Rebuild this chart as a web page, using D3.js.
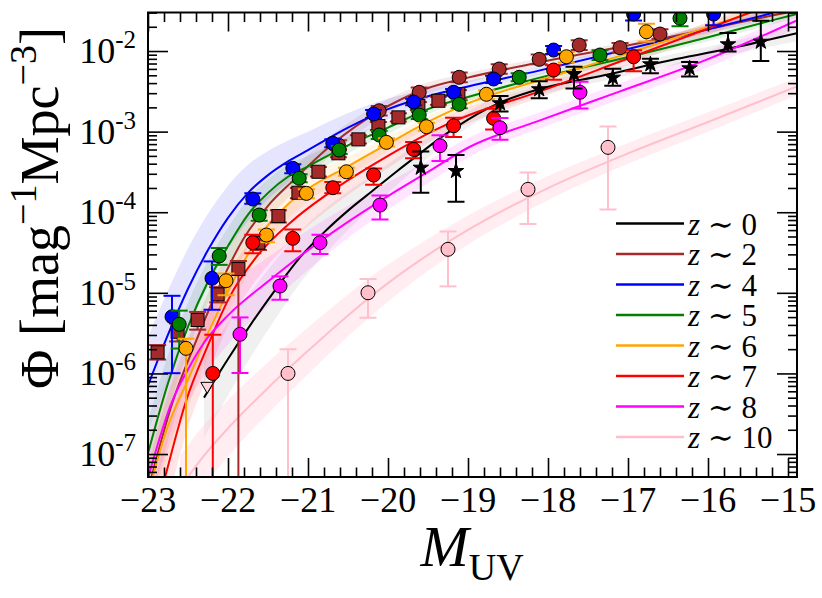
<!DOCTYPE html>
<html><head><meta charset="utf-8">
<script src="https://cdn.jsdelivr.net/npm/d3@7"></script>
<style>body{margin:0;background:#fff}svg{display:block}</style>
</head><body><svg id="c" width="822" height="598"></svg>
<script>
// ---------------- DATA (log10 Phi values) ----------------
const zLabels = ["0", "2", "4", "5", "6", "7", "8", "10"];

// fitted curves (M_UV, log10 Phi, band half-width in dex)
const c0M = [-22.3, -22.0, -21.7, -21.4, -21.1, -20.8, -20.5, -20.2, -19.9, -19.6, -19.35, -19.0, -18.6, -18.1, -17.3, -16.4, -15.6, -14.89];
const c0L = [-6.3, -5.82, -5.37, -4.95, -4.56, -4.25, -3.98, -3.74, -3.5, -3.27, -3.08, -2.85, -2.64, -2.47, -2.3, -2.1, -1.94, -1.78];
const c0B = [0.5, 0.45, 0.4, 0.36, 0.32, 0.28, 0.24, 0.2, 0.17, 0.14, 0.12, 0.1, 0.09, 0.08, 0.07, 0.07, 0.08, 0.1];

const c2M = [-23.0, -22.7, -22.4, -22.1, -21.8, -21.5, -21.2, -20.7, -20.1, -19.56, -19.0, -18.1, -17.1, -16.0, -15.2, -14.89];
const c2L = [-7.45, -6.38, -5.6, -4.9, -4.32, -3.92, -3.62, -3.16, -2.74, -2.48, -2.33, -2.14, -1.95, -1.73, -1.56, -1.5];
const c2B = [0.3, 0.28, 0.25, 0.22, 0.2, 0.17, 0.15, 0.12, 0.09, 0.07, 0.06, 0.05, 0.05, 0.05, 0.05, 0.05];

const c4M = [-23.0, -22.75, -22.5, -22.25, -22.0, -21.75, -21.5, -21.25, -21.0, -20.5, -20.0, -19.5, -19.0, -18.1, -17.1, -16.0, -15.2];
const c4L = [-6.15, -5.52, -4.95, -4.47, -4.07, -3.76, -3.54, -3.37, -3.23, -2.95, -2.72, -2.56, -2.44, -2.24, -2.0, -1.73, -1.53];
const c4B = [0.6, 0.55, 0.5, 0.45, 0.4, 0.35, 0.3, 0.26, 0.23, 0.18, 0.13, 0.09, 0.07, 0.05, 0.05, 0.05, 0.05];

const c5M = [-23.0, -22.75, -22.5, -22.25, -22.0, -21.75, -21.5, -21.25, -21.0, -20.5, -20.0, -19.5, -19.0, -18.1, -17.1, -16.0, -15.2, -14.89];
const c5L = [-6.99, -6.12, -5.42, -4.86, -4.42, -4.03, -3.76, -3.56, -3.43, -3.17, -2.95, -2.72, -2.57, -2.33, -2.1, -1.83, -1.62, -1.54];
const c5B = [0.4, 0.35, 0.3, 0.26, 0.23, 0.2, 0.17, 0.15, 0.13, 0.1, 0.08, 0.06, 0.05, 0.05, 0.05, 0.05, 0.05, 0.05];

const c6M = [-23.0, -22.75, -22.5, -22.25, -22.0, -21.75, -21.5, -21.25, -21.0, -20.5, -20.0, -19.5, -19.0, -18.1, -17.1, -16.0, -15.3];
const c6L = [-7.5, -6.65, -6.08, -5.5, -4.98, -4.52, -4.16, -3.9, -3.71, -3.43, -3.15, -2.88, -2.65, -2.36, -2.06, -1.7, -1.47];
const c6B = [0.45, 0.4, 0.35, 0.3, 0.27, 0.24, 0.21, 0.18, 0.16, 0.12, 0.09, 0.07, 0.06, 0.05, 0.05, 0.05, 0.05];

const c7M = [-23.0, -22.79, -22.52, -22.25, -22.0, -21.625, -21.21, -20.75, -20.0, -19.35, -19.0, -18.1, -17.1, -16.0, -15.2];
const c7L = [-8.1, -7.3, -6.33, -5.65, -5.09, -4.53, -4.12, -3.77, -3.3, -2.95, -2.8, -2.5, -2.13, -1.72, -1.42];
const c7B = [0.5, 0.45, 0.4, 0.36, 0.32, 0.28, 0.24, 0.2, 0.15, 0.11, 0.1, 0.08, 0.08, 0.08, 0.08];

const c8M = [-23.0, -22.7, -22.5, -22.3, -22.0, -21.5, -21.0, -20.5, -20.0, -19.5, -19.0, -18.1, -17.1, -16.0, -14.89];
const c8L = [-7.3, -6.35, -5.95, -5.62, -5.28, -4.86, -4.47, -4.12, -3.8, -3.5, -3.2, -2.86, -2.5, -2.1, -1.62];
const c8B = [0.5, 0.45, 0.42, 0.4, 0.36, 0.3, 0.25, 0.2, 0.17, 0.14, 0.12, 0.1, 0.1, 0.1, 0.1];

const c10M = [-22.6, -22.3, -22.0, -21.5, -21.0, -20.5, -20.0, -19.5, -19.0, -18.0, -17.0, -16.0, -14.89];
const c10L = [-7.42, -7.02, -6.68, -6.18, -5.72, -5.28, -4.88, -4.53, -4.22, -3.7, -3.27, -2.88, -2.44];
const c10B = [0.4, 0.38, 0.35, 0.32, 0.29, 0.26, 0.23, 0.2, 0.18, 0.15, 0.13, 0.12, 0.11];

// data points (M_UV, log10 Phi, upper error dex, lower error dex; null = down to axis)
const p0M = [-19.59, -19.15, -18.6, -18.11, -17.675, -17.19, -16.72, -16.23, -15.75, -15.34];
const p0L = [-3.448, -3.489, -2.649, -2.475, -2.285, -2.331, -2.165, -2.215, -1.917, -1.885];
const p0U = [0.2, 0.2, 0.09, 0.1, 0.09, 0.11, 0.07, 0.08, 0.14, 0.26];
const p0D = [0.31, 0.38, 0.1, 0.11, 0.18, 0.1, 0.11, 0.1, 0.09, 0.24];
const lim0M = [-22.26];
const lim0L = [-6.156];

const p2M = [-20.62, -20.11, -19.61, -19.11, -18.61, -18.11, -17.61, -17.1, -16.6];
const p2L = [-3.166, -2.741, -2.512, -2.326, -2.223, -2.103, -1.926, -1.959, -1.789];
const p2U = [0.06, 0.06, 0.06, 0.06, 0.06, 0.06, 0.06, 0.06, 0.06];
const p2D = [0.06, 0.06, 0.06, 0.06, 0.06, 0.06, 0.06, 0.06, 0.06];

const s2M = [-22.88, -22.63, -22.38, -22.13, -21.87, -21.62, -21.37, -21.12, -20.87, -20.62, -20.37, -20.12, -19.87, -19.62, -19.37, -19.12];
const s2L = [-5.738, -5.483, -5.337, -5.019, -4.705, -4.378, -4.047, -3.758, -3.498, -3.269, -3.096, -2.931, -2.823, -2.682, -2.617, -2.533];
const s2U = [0.09, 0.1, 0.1, 0.09, 0.1, 0.08, 0.07, 0.06, 0.06, 0.05, 0.05, 0.05, 0.05, 0.05, 0.05, 0.05];
const s2D = [0.09, 0.12, 0.12, 0.1, null, 0.09, 0.08, 0.07, 0.06, 0.05, 0.05, 0.05, 0.05, 0.05, 0.05, 0.05];

const p4M = [-22.7, -22.2, -21.69, -21.19, -20.69, -20.18, -19.68, -19.18, -18.68, -17.93, -16.93, -15.93];
const p4L = [-5.297, -4.82, -3.836, -3.455, -3.145, -2.782, -2.633, -2.512, -2.347, -1.988, -1.541, -1.541];
const p4U = [0.26, 0.21, 0.07, 0.05, 0.05, 0.05, 0.04, 0.04, 0.04, 0.05, 0.06, 0.08];
const p4D = [0.7, 0.39, 0.06, 0.06, 0.05, 0.05, 0.04, 0.04, 0.05, 0.05, 0.08, 0.14];

const p5M = [-22.61, -22.11, -21.61, -21.11, -20.61, -20.11, -19.61, -19.11, -18.36, -17.35, -16.35];
const p5L = [-5.391, -4.543, -4.035, -3.579, -3.228, -3.042, -2.794, -2.661, -2.326, -2.05, -1.594];
const p5U = [0.17, 0.1, 0.06, 0.05, 0.05, 0.05, 0.05, 0.05, 0.05, 0.06, 0.08];
const p5D = [0.3, 0.11, 0.07, 0.05, 0.05, 0.05, 0.05, 0.05, 0.05, 0.06, 0.1];

const p6M = [-22.525, -22.025, -21.52, -21.02, -20.52, -20.02, -19.52, -18.77, -17.77, -16.77];
const p6L = [-5.689, -4.85, -4.283, -3.766, -3.498, -3.133, -2.939, -2.537, -2.071, -1.761];
const p6U = [0.12, 0.09, 0.07, 0.05, 0.05, 0.05, 0.05, 0.05, 0.06, 0.1];
const p6D = [null, 0.18, 0.09, 0.06, 0.05, 0.05, 0.05, 0.06, 0.07, 0.12];

const p7M = [-22.19, -21.69, -21.19, -20.69, -20.18, -19.68, -19.18, -18.68, -17.93, -16.93];
const p7L = [-6.0, -4.378, -4.324, -3.696, -3.538, -3.22, -2.927, -2.835, -2.236, -2.071];
const p7U = [0.48, 0.1, 0.11, 0.07, 0.08, 0.09, 0.1, 0.12, 0.06, 0.08];
const p7D = [null, 0.13, 0.16, 0.07, 0.12, 0.11, 0.14, 0.14, 0.12, 0.18];

const p8M = [-21.85, -21.35, -20.85, -20.1, -19.35, -18.6, -17.6];
const p8L = [-5.515, -4.916, -4.378, -3.911, -3.175, -2.952, -2.512];
const p8U = [0.21, 0.12, 0.1, 0.12, 0.13, 0.12, 0.13];
const p8D = [0.48, 0.17, 0.14, 0.18, 0.19, 0.15, 0.2];

const p10M = [-21.25, -20.25, -19.25, -18.25, -17.25];
const p10L = [-6.0, -4.999, -4.46, -3.716, -3.195];
const p10U = [0.3, 0.17, 0.22, 0.21, 0.26];
const p10D = [null, 0.31, 0.46, 0.43, 0.77];

// axis ticks
const xMajorTicks = [-23, -22, -21, -20, -19, -18, -17, -16, -15];
const yMajorExp = [-7, -6, -5, -4, -3, -2];

// ---------------- STYLE ----------------
const zColors = ["#000000", "#a52a2a", "#0000ff", "#008000", "#ffa500", "#ff0000", "#ff00ff", "#ffc0cb"];
const bandOpacity = [0.12, 0.1, 0.1, 0.1, 0.1, 0.1, 0.1, 0.28];

// ---------------- BUILD ----------------
const P = v => Math.pow(10, v);
const L = 148, R = 797, T = 12.5, B = 477;
const x = d3.scaleLinear().domain([-23, -14.8875]).range([L, R]);
const y = d3.scaleLog().domain([P(-7.285), P(-1.522)]).range([B, T]);

const curves = [
  [c0M, c0L, c0B], [c2M, c2L, c2B], [c4M, c4L, c4B], [c5M, c5L, c5B],
  [c6M, c6L, c6B], [c7M, c7L, c7B], [c8M, c8L, c8B], [c10M, c10L, c10B]
].map(([m, l, b], i) => ({ i, pts: m.map((v, k) => ({ M: v, L: l[k], B: b[k] })) }));

const mk = (m, l, u, d) => m.map((v, k) => ({ M: v, L: l[k], U: u[k], D: d[k] }));
const pointSets = [
  { c: 1, shape: "square", pts: mk(s2M, s2L, s2U, s2D) },
  { c: 1, shape: "circle", pts: mk(p2M, p2L, p2U, p2D) },
  { c: 2, shape: "circle", pts: mk(p4M, p4L, p4U, p4D) },
  { c: 3, shape: "circle", pts: mk(p5M, p5L, p5U, p5D) },
  { c: 4, shape: "circle", pts: mk(p6M, p6L, p6U, p6D) },
  { c: 5, shape: "circle", pts: mk(p7M, p7L, p7U, p7D) },
  { c: 6, shape: "circle", pts: mk(p8M, p8L, p8U, p8D) },
  { c: 7, shape: "circle", pts: mk(p10M, p10L, p10U, p10D) },
  { c: 0, shape: "star", pts: mk(p0M, p0L, p0U, p0D) }
];

const svg = d3.select("#c");
const FONT = "'Liberation Serif','Times New Roman','DejaVu Serif',serif";

svg.append("defs").append("clipPath").attr("id", "clip")
  .append("rect").attr("x", L).attr("y", T).attr("width", R - L).attr("height", B - T);

const plot = svg.append("g").attr("clip-path", "url(#clip)");

// bands
const area = d3.area().curve(d3.curveMonotoneX)
  .x(d => x(d.M)).y0(d => y(P(d.L - d.B))).y1(d => y(P(d.L + d.B)));
plot.append("g").selectAll("path").data(curves).join("path")
  .attr("d", d => area(d.pts))
  .attr("fill", d => d.i === 0 ? "#808080" : zColors[d.i])
  .attr("fill-opacity", d => bandOpacity[d.i])
  .attr("stroke", "none");

// lines
const line = d3.line().curve(d3.curveMonotoneX).x(d => x(d.M)).y(d => y(P(d.L)));
plot.append("g").selectAll("path").data(curves).join("path")
  .attr("d", d => line(d.pts))
  .attr("fill", "none")
  .attr("stroke", d => zColors[d.i])
  .attr("stroke-width", 2);

// points with error bars
const cap = 8.5;
pointSets.forEach(set => {
  const col = zColors[set.c];
  const g = plot.append("g");
  set.pts.forEach(p => {
    const cx = x(p.M);
    const yTop = y(P(p.L + p.U));
    const yBot = p.D === null ? B + 20 : y(P(p.L - p.D));
    g.append("line").attr("x1", cx).attr("x2", cx).attr("y1", yTop).attr("y2", yBot)
      .attr("stroke", col).attr("stroke-width", 2);
    g.append("line").attr("x1", cx - cap).attr("x2", cx + cap).attr("y1", yTop).attr("y2", yTop)
      .attr("stroke", col).attr("stroke-width", 2);
    if (p.D !== null) {
      g.append("line").attr("x1", cx - cap).attr("x2", cx + cap).attr("y1", yBot).attr("y2", yBot)
        .attr("stroke", col).attr("stroke-width", 2);
    }
  });
  const cy = p => y(P(p.L));
  if (set.shape === "circle") {
    g.selectAll("circle").data(set.pts).join("circle")
      .attr("cx", p => x(p.M)).attr("cy", cy).attr("r", 7)
      .attr("fill", col).attr("stroke", "#000").attr("stroke-width", 1);
  } else if (set.shape === "square") {
    g.selectAll("rect").data(set.pts).join("rect")
      .attr("x", p => x(p.M) - 6.5).attr("y", p => cy(p) - 6.5).attr("width", 13).attr("height", 13)
      .attr("fill", col).attr("stroke", "#000").attr("stroke-width", 1);
  } else {
    g.selectAll("path.star").data(set.pts).join("path")
      .attr("transform", p => `translate(${x(p.M)},${cy(p)})`)
      .attr("d", d3.symbol().type(d3.symbolStar).size(75))
      .attr("fill", "#000").attr("stroke", "#000").attr("stroke-width", 1);
  }
});
// upper-limit triangle
plot.append("g").selectAll("path").data(lim0M.map((m, k) => ({ M: m, L: lim0L[k] }))).join("path")
  .attr("transform", d => `translate(${x(d.M)},${y(P(d.L))}) rotate(180)`)
  .attr("d", d3.symbol().type(d3.symbolTriangle).size(70))
  .attr("fill", "#ffd6dd").attr("stroke", "#000").attr("stroke-width", 1);

// axes (ticks via d3 axes)
const xMinor = d3.range(0, 41).map(i => -23 + i * 0.2).filter(v => Math.abs(v - Math.round(v)) > 1e-6);
const yMinor = [];
for (let n = -8; n <= -2; n++) for (let k = 2; k <= 9; k++) {
  const v = k * P(n);
  if (v > P(-7.285) && v < P(-1.522)) yMinor.push(v);
}
const yMajor = yMajorExp.map(e => P(e));
const styleTicks = g => { g.select(".domain").remove(); g.selectAll("line").attr("stroke", "#000").attr("stroke-width", 1.6); g.selectAll("text").remove(); };
svg.append("g").attr("transform", `translate(0,${B})`).call(d3.axisBottom(x).tickValues(xMajorTicks).tickSize(-19).tickSizeOuter(0)).call(styleTicks);
svg.append("g").attr("transform", `translate(0,${B})`).call(d3.axisBottom(x).tickValues(xMinor).tickSize(-9.5).tickSizeOuter(0)).call(styleTicks);
svg.append("g").attr("transform", `translate(0,${T})`).call(d3.axisTop(x).tickValues(xMajorTicks).tickSize(-19).tickSizeOuter(0)).call(styleTicks);
svg.append("g").attr("transform", `translate(0,${T})`).call(d3.axisTop(x).tickValues(xMinor).tickSize(-9.5).tickSizeOuter(0)).call(styleTicks);
svg.append("g").attr("transform", `translate(${L},0)`).call(d3.axisLeft(y).tickValues(yMajor).tickSize(-20).tickSizeOuter(0)).call(styleTicks);
svg.append("g").attr("transform", `translate(${L},0)`).call(d3.axisLeft(y).tickValues(yMinor).tickSize(-9).tickSizeOuter(0)).call(styleTicks);
svg.append("g").attr("transform", `translate(${R},0)`).call(d3.axisRight(y).tickValues(yMajor).tickSize(-20).tickSizeOuter(0)).call(styleTicks);
svg.append("g").attr("transform", `translate(${R},0)`).call(d3.axisRight(y).tickValues(yMinor).tickSize(-9).tickSizeOuter(0)).call(styleTicks);

// frame
svg.append("rect").attr("x", L).attr("y", T).attr("width", R - L).attr("height", B - T)
  .attr("fill", "none").attr("stroke", "#000").attr("stroke-width", 2);

// tick labels
svg.append("g").selectAll("text").data(xMajorTicks).join("text")
  .attr("x", d => x(d)).attr("y", 512).attr("text-anchor", "middle")
  .attr("font-family", FONT).attr("font-size", 36).attr("fill", "#000")
  .text(d => "\u2212" + Math.abs(d));

const yl = svg.append("g").selectAll("text").data(yMajorExp).join("text")
  .attr("x", 136).attr("y", d => y(P(d)) + 12).attr("text-anchor", "end")
  .attr("font-family", FONT).attr("font-size", 36).attr("fill", "#000");
yl.append("tspan").text("10");
yl.append("tspan").attr("dy", -15).attr("font-size", 25).text(d => "-" + Math.abs(d));

// axis titles
const xt = svg.append("text").attr("x", 472).attr("y", 566).attr("text-anchor", "middle")
  .attr("font-family", FONT).attr("font-size", 58).attr("fill", "#000");
xt.append("tspan").attr("font-style", "italic").text("M");
xt.append("tspan").attr("font-size", 38).attr("dy", 14).text("UV");

const yt = svg.append("text").attr("transform", "translate(58,208) rotate(-90)").attr("text-anchor", "middle")
  .attr("font-family", FONT).attr("font-size", 54).attr("fill", "#000");
yt.append("tspan").text("\u03A6 [mag");
yt.append("tspan").attr("font-size", 38).attr("dy", -22).text("\u22121");
yt.append("tspan").attr("dy", 22).text("Mpc");
yt.append("tspan").attr("font-size", 38).attr("dy", -22).text("\u22123");
yt.append("tspan").attr("dy", 22).text("]");

// legend
const lg = svg.append("g").selectAll("g").data(zLabels).join("g")
  .attr("transform", (d, i) => `translate(0,${223.5 + i * 30.5})`);
lg.append("line").attr("x1", 616).attr("x2", 684).attr("y1", 0).attr("y2", 0)
  .attr("stroke", (d, i) => zColors[i]).attr("stroke-width", 2.5);
const lt = lg.append("text").attr("x", 688).attr("y", 11)
  .attr("font-family", FONT).attr("font-size", 31).attr("fill", "#000");
lt.append("tspan").attr("font-style", "italic").text("z");
lt.append("tspan").text(" \u223C ");
lt.append("tspan").text(d => d);
</script>
</body></html>
